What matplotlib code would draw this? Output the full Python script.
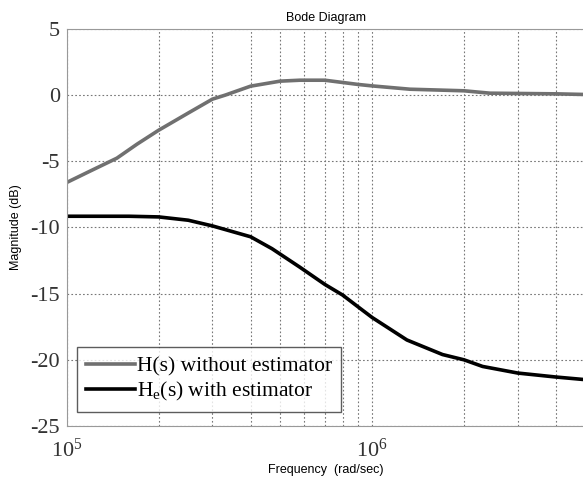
import matplotlib
matplotlib.use("Agg")
import matplotlib.pyplot as plt
import numpy as np
from matplotlib.ticker import LogLocator, LogFormatterMathtext, NullFormatter

# H(s) without estimator
freq_h = [1.0e5, 1.19e5, 1.46e5, 1.7e5, 2.0e5, 2.5e5, 3.0e5, 3.3e5, 4.0e5, 5.0e5, 5.8e5, 7.0e5,
          8.0e5, 9.0e5, 1.0e6, 1.33e6, 2.0e6, 2.43e6, 4.0e6, 5.0e6]
mag_h = [-6.6, -5.75, -4.76, -3.7, -2.65, -1.35, -0.3, 0.0, 0.68, 1.06, 1.13, 1.13,
         0.96, 0.81, 0.7, 0.45, 0.33, 0.15, 0.1, 0.05]

# He(s) with estimator
freq_he = [1.0e5, 1.6e5, 2.0e5, 2.5e5, 3.0e5, 4.0e5, 4.7e5, 5.8e5, 7.0e5, 8.0e5, 9.0e5, 1.0e6,
           1.3e6, 1.7e6, 2.0e6, 2.3e6, 3.0e6, 4.0e6, 5.0e6]
mag_he = [-9.15, -9.15, -9.2, -9.45, -9.88, -10.7, -11.6, -13.0, -14.3, -15.1, -16.0, -16.8,
          -18.5, -19.6, -20.0, -20.5, -21.0, -21.3, -21.5]

labels = ["H(s) without estimator", r"H$\mathregular{_e}$(s) with estimator"]

plt.rcParams["mathtext.default"] = "regular"
plt.rcParams["axes.unicode_minus"] = False

fig = plt.figure(figsize=(5.83, 4.84), dpi=100)
ax = fig.add_axes([66.7 / 583, 1 - 426 / 484, (585.6 - 66.7) / 583, (426 - 29) / 484])

ax.plot(freq_h, mag_h, color="#707070", lw=2.6, label=labels[0])
ax.plot(freq_he, mag_he, color="black", lw=2.6, label=labels[1])

ax.set_xscale("log")
ax.set_xlim(1e5, 5e6)
ax.set_ylim(-25, 5)
ax.set_yticks(np.arange(-25, 6, 5))
ax.xaxis.set_major_locator(LogLocator(base=10))
ax.xaxis.set_minor_locator(LogLocator(base=10, subs=np.arange(2, 10)))
ax.xaxis.set_major_formatter(LogFormatterMathtext())
ax.xaxis.set_minor_formatter(NullFormatter())

ax.grid(True, which="both", axis="x", color="#777777", ls=(0, (1.5, 2)), lw=0.8)
ax.grid(True, which="major", axis="y", color="#777777", ls=(0, (1.5, 2)), lw=0.8)

for s in ax.spines.values():
    s.set_color("#999999")
ax.tick_params(which="both", length=0, labelsize=16)
ax.tick_params(axis="x", pad=9)
ax.tick_params(axis="y", pad=5)
for lab in ax.get_xticklabels() + ax.get_yticklabels():
    lab.set_family("Liberation Serif")
    lab.set_color("#333333")

ax.set_title("Bode Diagram", fontsize=9, family="Liberation Sans", pad=6)
ax.set_ylabel("Magnitude (dB)", fontsize=9, family="Liberation Sans", labelpad=6)
ax.set_xlabel("Frequency  (rad/sec)", fontsize=9, family="Liberation Sans", labelpad=2)

leg = ax.legend(loc="lower left", bbox_to_anchor=(0.02, 0.035), borderaxespad=0,
                prop={"family": "Liberation Serif", "size": 15.5},
                frameon=True, fancybox=False, edgecolor="#333333", handlelength=2.3,
                handletextpad=0.1, borderpad=0.4, labelspacing=0.2)
leg.get_frame().set_linewidth(1.0)

fig.savefig("out.png", dpi=100)
